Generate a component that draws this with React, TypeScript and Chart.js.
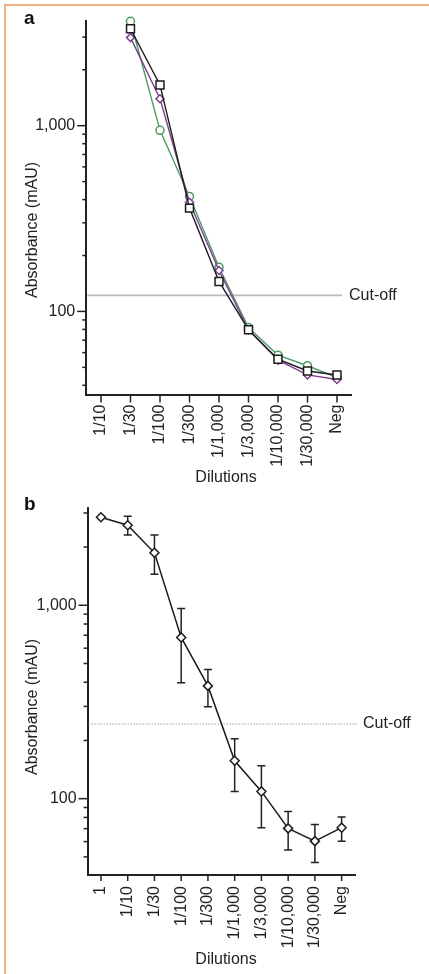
import React, { useEffect, useRef } from "react";
import { Chart, registerables } from "chart.js";

Chart.register(...registerables);

// ---------- Panel a data ----------
const categoriesA = ["1/10", "1/30", "1/100", "1/300", "1/1,000", "1/3,000", "1/10,000", "1/30,000", "Neg"];
const blackSquares = [null, 3327, 1657, 360, 145, 79.6, 55.3, 47.8, 45.5];
const purpleDiamonds = [null, 2980, 1397, 387, 166, 79.6, 54.7, 45.5, 43];
const greenCircles = [null, 3650, 944, 416, 173, 81.8, 58.1, 51, 44];
const cutoffA = 122;
const yTicksA = [40, 50, 60, 70, 80, 90, 100, 200, 300, 400, 500, 600, 700, 800, 900, 1000, 2000, 3000];

// ---------- Panel b data ----------
const categoriesB = ["1", "1/10", "1/30", "1/100", "1/300", "1/1,000", "1/3,000", "1/10,000", "1/30,000", "Neg"];
const meanB = [2851, 2592, 1868, 682, 383, 157, 109, 70.2, 60.3, 70.8];
const errHighB = [null, 2884, 2310, 963, 466, 204, 148, 85.8, 73.5, 80.4];
const errLowB = [null, 2310, 1445, 398, 299, 109, 70.8, 54.3, 46.8, 60.3];
const cutoffB = 243;
const yTicksB = [50, 60, 70, 80, 90, 100, 200, 300, 400, 500, 600, 700, 800, 900, 1000, 2000, 3000];

const labeledTicks = [100, 1000];
const FONT = "'Liberation Sans', Arial, Helvetica, sans-serif";
const INK = "#222";

function fmt(v: number) {
  return v.toLocaleString("en-US");
}

type Decor = {
  letter: string;
  letterY: number;
  yTitleX: number;
  yTitleY: number;
  xTitleX: number;
  xTitleY: number;
  yTicks: number[];
  cutoff: number;
  cutoffEnd: number;
  cutoffTextX: number;
  cutoffDotted: boolean;
  xTickLen: number;
  errHigh?: (number | null)[];
  errLow?: (number | null)[];
};

function makeDecor(d: Decor) {
  return {
    id: "decor",
    beforeDatasetsDraw(chart: any) {
      const ctx = chart.ctx;
      const xs = chart.scales.x;
      const ys = chart.scales.y;
      const area = chart.chartArea;
      // cut-off line
      ctx.save();
      const cy = ys.getPixelForValue(d.cutoff);
      ctx.beginPath();
      if (d.cutoffDotted) {
        ctx.setLineDash([1, 2]);
        ctx.strokeStyle = "#8c8c8c";
        ctx.lineWidth = 1.2;
      } else {
        ctx.strokeStyle = "#b9b9b9";
        ctx.lineWidth = 1.6;
      }
      ctx.moveTo(area.left + 1, cy);
      ctx.lineTo(d.cutoffEnd, cy);
      ctx.stroke();
      ctx.restore();
      // error bars
      if (d.errHigh && d.errLow) {
        ctx.save();
        ctx.strokeStyle = INK;
        ctx.lineWidth = 1.5;
        for (let i = 0; i < d.errHigh.length; i++) {
          const hi = d.errHigh[i];
          const lo = d.errLow[i];
          if (hi == null || lo == null) continue;
          const x = xs.getPixelForValue(i);
          const yh = ys.getPixelForValue(hi);
          const yl = ys.getPixelForValue(lo);
          ctx.beginPath();
          ctx.moveTo(x, yh);
          ctx.lineTo(x, yl);
          ctx.moveTo(x - 4, yh);
          ctx.lineTo(x + 4, yh);
          ctx.moveTo(x - 4, yl);
          ctx.lineTo(x + 4, yl);
          ctx.stroke();
        }
        ctx.restore();
      }
    },
    afterDraw(chart: any) {
      const ctx = chart.ctx;
      const xs = chart.scales.x;
      const ys = chart.scales.y;
      const area = chart.chartArea;
      ctx.save();
      ctx.strokeStyle = INK;
      ctx.lineWidth = 1.5;
      // y ticks
      for (const v of d.yTicks) {
        if (v < ys.min || v > ys.max) continue;
        const y = ys.getPixelForValue(v);
        const len = labeledTicks.includes(v) ? 9 : 4;
        ctx.beginPath();
        ctx.moveTo(area.left - len, y);
        ctx.lineTo(area.left, y);
        ctx.stroke();
      }
      // x ticks
      const n = chart.data.labels.length;
      for (let i = 0; i < n; i++) {
        const x = xs.getPixelForValue(i);
        ctx.beginPath();
        ctx.moveTo(x, area.bottom);
        ctx.lineTo(x, area.bottom + d.xTickLen);
        ctx.stroke();
      }
      // texts
      ctx.fillStyle = INK;
      ctx.font = `16px ${FONT}`;
      ctx.textAlign = "left";
      ctx.textBaseline = "middle";
      ctx.fillText("Cut-off", d.cutoffTextX, ys.getPixelForValue(d.cutoff));
      ctx.textAlign = "center";
      ctx.fillText("Dilutions", d.xTitleX, d.xTitleY);
      ctx.save();
      ctx.translate(d.yTitleX, d.yTitleY);
      ctx.rotate(-Math.PI / 2);
      ctx.fillText("Absorbance (mAU)", 0, 0);
      ctx.restore();
      ctx.font = `bold 19px ${FONT}`;
      ctx.textAlign = "left";
      ctx.textBaseline = "alphabetic";
      ctx.fillStyle = "#111";
      ctx.fillText(d.letter, 24, d.letterY);
      ctx.restore();
    },
  };
}

function axisCommon(yTicks: number[], min: number, max: number, yWidth: number, xHeight: number, xPad: number) {
  return {
    x: {
      type: "category",
      offset: true,
      grid: { display: false, drawTicks: false },
      border: { display: true, color: INK, width: 2 },
      ticks: {
        autoSkip: false,
        maxRotation: 90,
        minRotation: 90,
        padding: xPad,
        color: INK,
        font: { family: FONT, size: 16 },
      },
      afterFit: (s: any) => {
        s.height = xHeight;
      },
    },
    y: {
      type: "logarithmic",
      min,
      max,
      grid: { display: false, drawTicks: false },
      border: { display: true, color: INK, width: 2 },
      ticks: {
        autoSkip: false,
        padding: 11,
        color: INK,
        font: { family: FONT, size: 16 },
        callback: (v: any) => (labeledTicks.includes(Number(v)) ? fmt(Number(v)) : ""),
      },
      afterBuildTicks: (s: any) => {
        s.ticks = yTicks.filter((v) => v >= min && v <= max).map((v) => ({ value: v }));
      },
      afterFit: (s: any) => {
        s.width = yWidth;
      },
    },
  };
}

function configA(): any {
  const pt = { pointBackgroundColor: "#fff", pointBorderWidth: 1.5, borderWidth: 1.4, tension: 0, clip: false as any };
  return {
    type: "line",
    data: {
      labels: categoriesA,
      datasets: [
        { label: "squares", data: blackSquares, borderColor: "#1b1b1b", pointBorderColor: "#1b1b1b", pointStyle: "rect", pointRadius: 5.6, ...pt },
        { label: "diamonds", data: purpleDiamonds, borderColor: "#7d3f8e", pointBorderColor: "#7d3f8e", pointStyle: "rectRot", pointRadius: 4, ...pt },
        { label: "circles", data: greenCircles, borderColor: "#4f9a62", pointBorderColor: "#4f9a62", pointStyle: "circle", pointRadius: 4, ...pt },
      ],
    },
    options: {
      responsive: false,
      animation: false,
      layout: { padding: { left: 0, right: 77.25, top: 16, bottom: 0 } },
      plugins: { legend: { display: false }, tooltip: { enabled: false } },
      scales: axisCommon(yTicksA, 35.7, 3680, 86.25, 487 - 394.5, 10),
    },
    plugins: [
      makeDecor({
        letter: "a",
        letterY: 24,
        yTitleX: 33,
        yTitleY: 230,
        xTitleX: 226,
        xTitleY: 478,
        yTicks: yTicksA,
        cutoff: cutoffA,
        cutoffEnd: 342,
        cutoffTextX: 349,
        cutoffDotted: false,
        xTickLen: 8,
      }),
    ],
  };
}

function configB(): any {
  return {
    type: "line",
    data: {
      labels: categoriesB,
      datasets: [
        {
          label: "mean",
          data: meanB,
          borderColor: "#1b1b1b",
          pointBorderColor: "#1b1b1b",
          pointBackgroundColor: "#fff",
          pointStyle: "rectRot",
          pointRadius: 4.5,
          pointBorderWidth: 1.5,
          borderWidth: 1.5,
          tension: 0,
          clip: false,
        },
      ],
    },
    options: {
      responsive: false,
      animation: false,
      layout: { padding: { left: 0, right: 74, top: 8, bottom: 0 } },
      plugins: { legend: { display: false }, tooltip: { enabled: false } },
      scales: axisCommon(yTicksB, 40.3, 3199, 87.6, 487 - 388, 11),
    },
    plugins: [
      makeDecor({
        letter: "b",
        letterY: 23,
        yTitleX: 33,
        yTitleY: 220,
        xTitleX: 226,
        xTitleY: 473,
        yTicks: yTicksB,
        cutoff: cutoffB,
        cutoffEnd: 357,
        cutoffTextX: 363,
        cutoffDotted: true,
        xTickLen: 6,
        errHigh: errHighB,
        errLow: errLowB,
      }),
    ],
  };
}

export default function App() {
  const refA = useRef<HTMLCanvasElement>(null);
  const refB = useRef<HTMLCanvasElement>(null);
  useEffect(() => {
    document.body.style.margin = "0";
    const a = new Chart(refA.current as HTMLCanvasElement, configA());
    const b = new Chart(refB.current as HTMLCanvasElement, configB());
    return () => {
      a.destroy();
      b.destroy();
    };
  }, []);
  return (
    <div style={{ position: "absolute", left: 0, top: 0, width: 429, height: 974, background: "#fff", overflow: "hidden" }}>
      <div
        style={{
          position: "absolute",
          left: 4,
          top: 4,
          right: 0,
          bottom: 0,
          borderLeft: "2px solid #f3b07e",
          borderTop: "2px solid #f3b07e",
        }}
      />
      <canvas ref={refA} width={429} height={487} style={{ position: "absolute", left: 0, top: 0, width: 429, height: 487 }} />
      <canvas ref={refB} width={429} height={487} style={{ position: "absolute", left: 0, top: 487, width: 429, height: 487 }} />
    </div>
  );
}
